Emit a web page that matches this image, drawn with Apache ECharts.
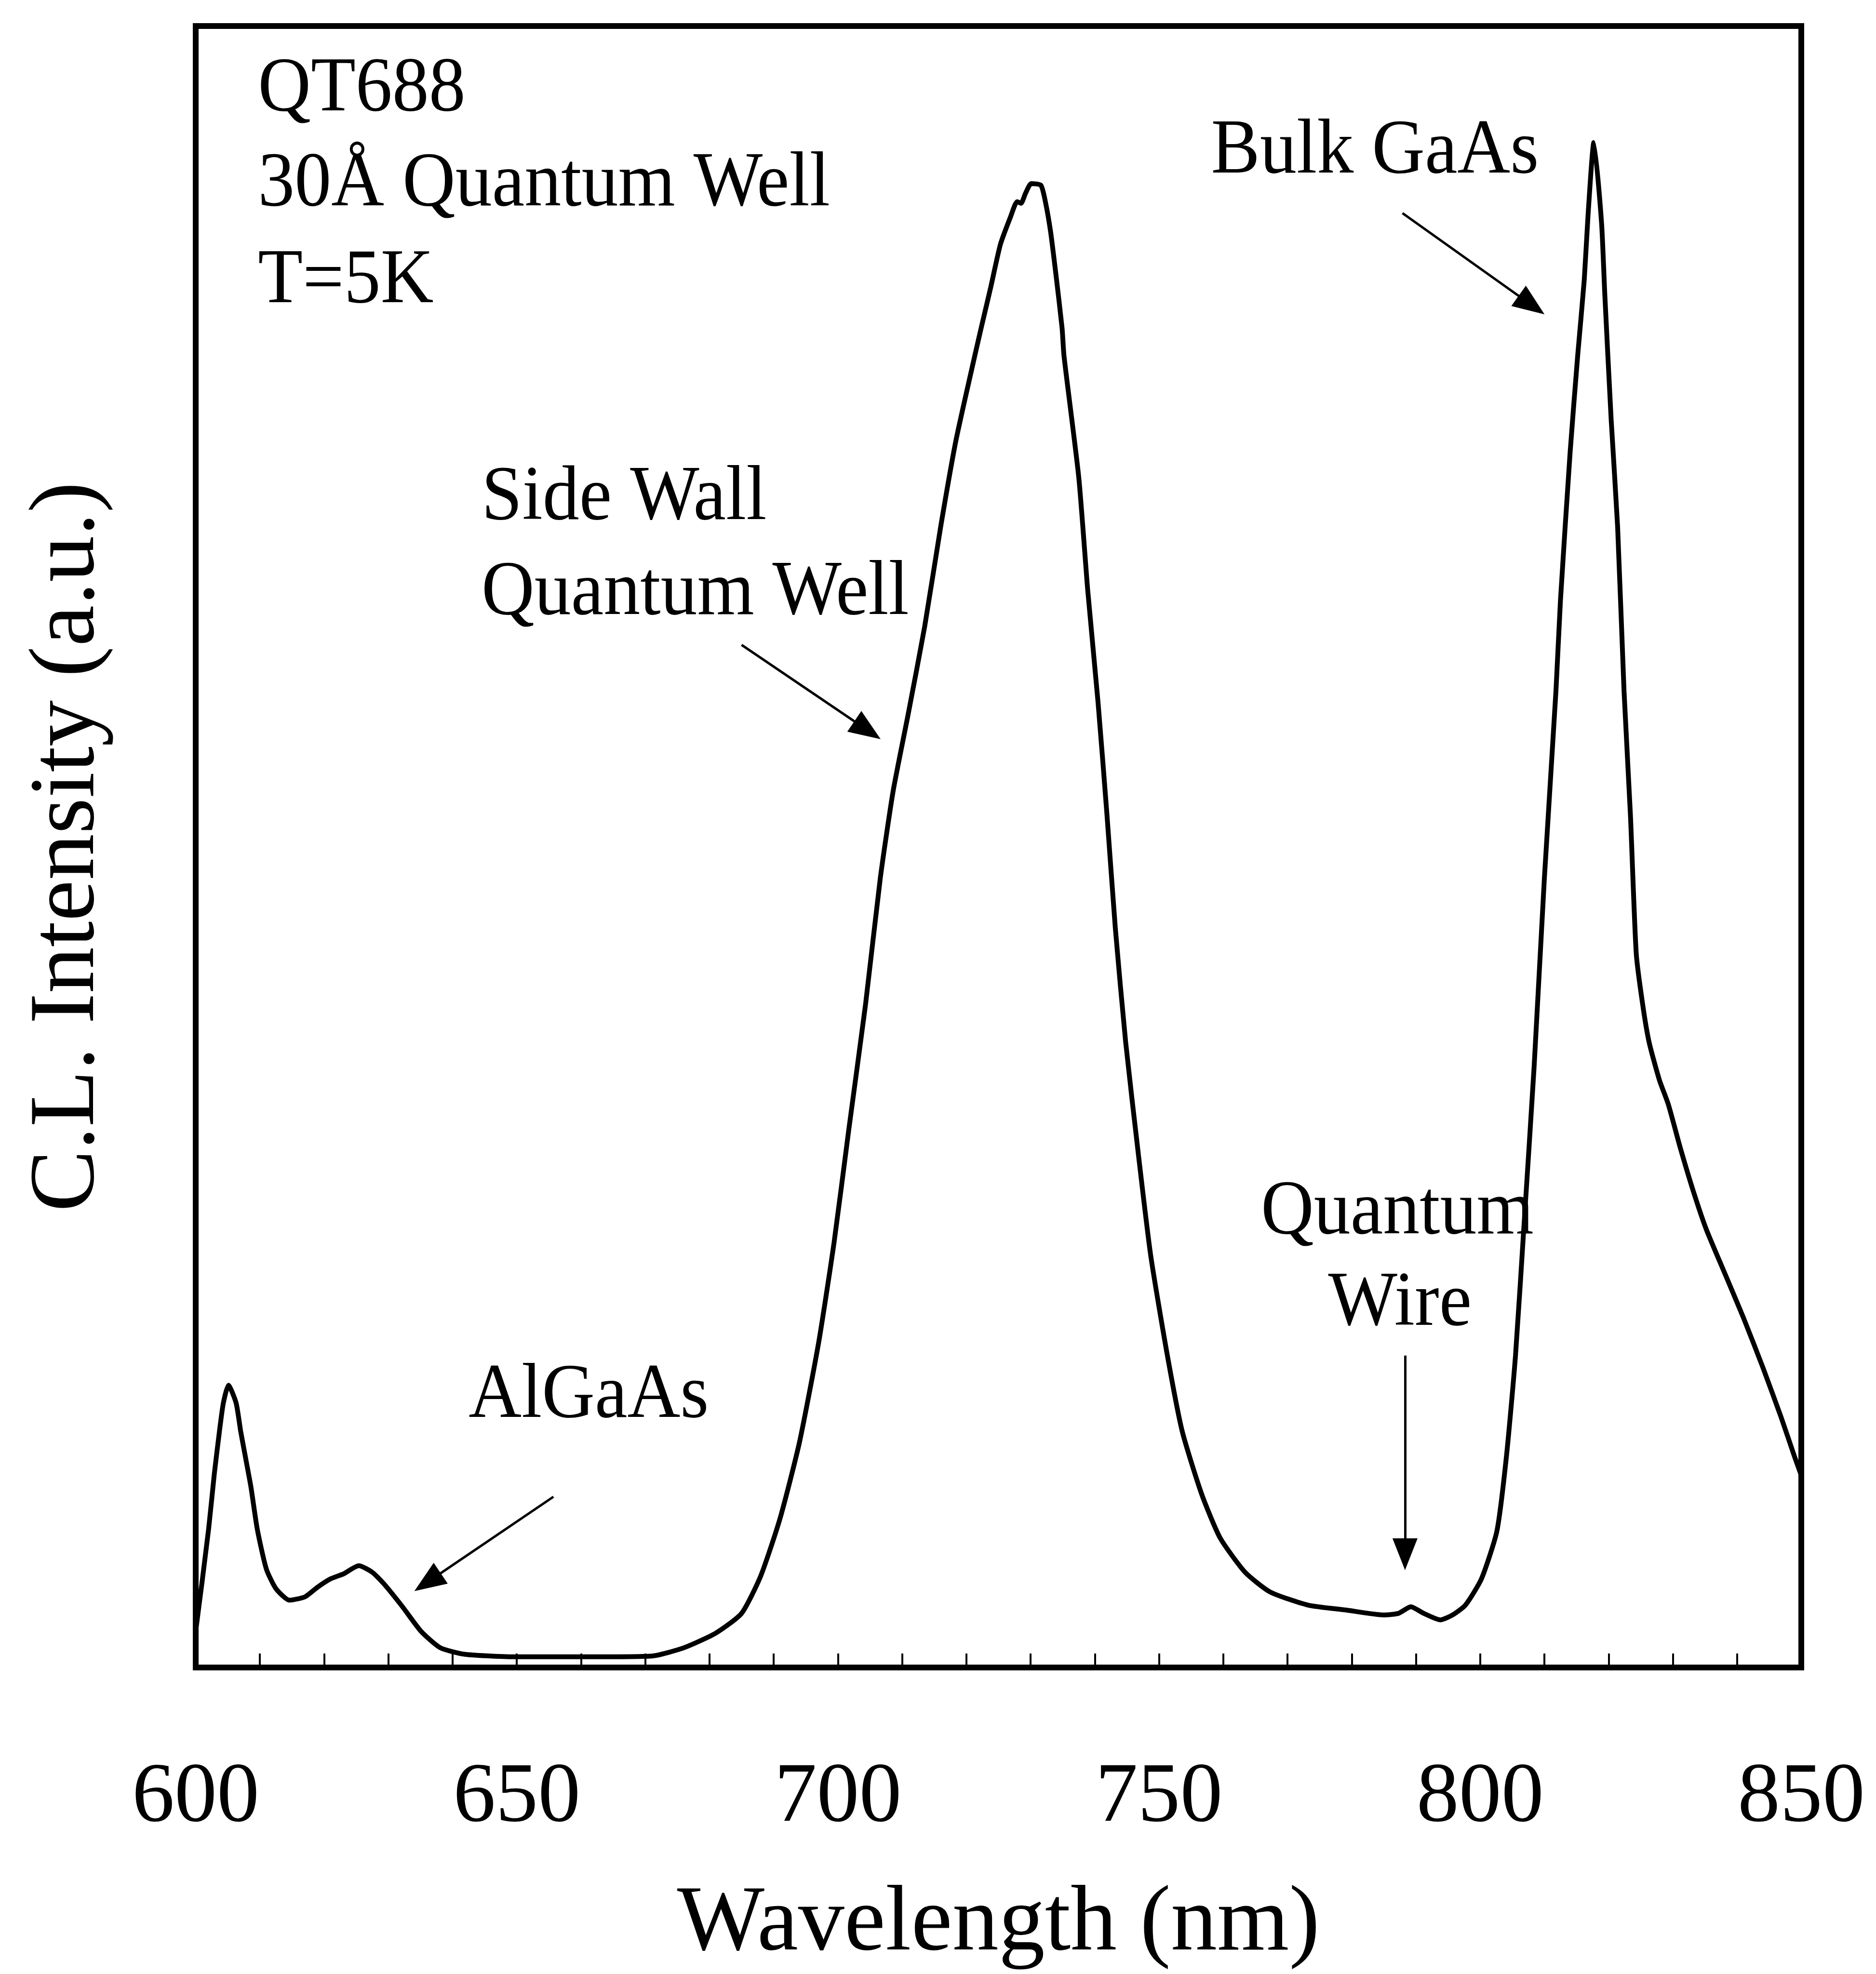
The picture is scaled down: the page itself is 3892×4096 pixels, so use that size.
<!DOCTYPE html>
<html>
<head>
<meta charset="utf-8">
<script src="https://cdn.jsdelivr.net/npm/echarts@6/dist/echarts.min.js"></script>
<style>
html,body{margin:0;padding:0;background:#fff;}
#chart{width:3892px;height:4096px;}
</style>
</head>
<body>
<div id="chart"></div>
<script>
// ---- data ----
const wavelength = [599.5,600,602.0,602.9,603.7,604.3,605.1,606.3,607.0,607.8,608.6,609.6,611,612.5,614.6,617,619,621,623,625.4,627.5,629.3,632.2,635.1,638.1,642,650,660,671,676,681,685,688,691,694,697,699.4,701.7,704.3,706.6,708.6,710.9,713.5,716,718.4,721.3,722.3,723.8,725.3,726.9,727.9,728.5,729.2,730.1,731.6,732.3,733.1,733.9,734.9,735.2,737.5,738.9,740.5,741.9,743.2,744.8,746.8,748.7,751.3,753.6,756.6,759.5,763.4,767.3,773.2,779.1,785,787.3,789.2,791.2,793.8,795.7,797.7,800.2,802.6,804.1,805.5,806.9,808.4,810.0,811.8,812.5,814.0,815.2,816.2,816.8,817.7,818.9,819.4,820.4,821.4,822.4,823.4,824.3,825.3,826.3,827.9,829.3,831.2,833.2,835.2,838.1,841.0,844.0,846.9,848.9,850];
const intensity = [1.2,2.2,8.4,11.8,14.4,16.1,17.2,16.1,14.4,12.7,11.0,8.4,6.0,4.8,4.1,4.3,4.9,5.4,5.7,6.2,5.8,5.1,3.7,2.2,1.2,0.8,0.65,0.65,0.7,1.2,2.1,3.3,5.6,9.1,13.7,19.8,25.9,32.8,40.4,48.1,53.4,58.0,63.4,69.5,74.8,79.9,81.6,84.1,86.7,88.4,89.3,89.2,89.8,90.4,90.3,89.3,87.5,85.0,81.6,79.9,72.5,65.6,58.8,51.9,45.0,38.1,31.2,25.1,19.0,14.4,10.6,7.9,5.8,4.6,3.8,3.5,3.2,3.3,3.7,3.3,2.9,3.2,3.8,5.4,8.3,12.9,19.0,27.4,36.6,48.1,59.5,65.0,74.0,80.0,84.5,88.5,92.9,88.0,83.7,76.0,69.5,59.5,51.9,43.5,40.4,38.1,35.8,34.3,31.6,29.0,26.7,24.0,21.3,18.3,15.2,12.9,11.7];
const xTickLabels = ['600','650','700','750','800','850'];

// annotations (data coordinates: wavelength nm, intensity a.u.; y = cap centre)
const noteTexts = ['QT688','30Å Quantum Well','T=5K','Bulk GaAs','Side Wall','Quantum Well','AlGaAs','Quantum','Wire'];
const noteX = [609.7,609.7,609.7,758.1,644.5,644.5,642.5,787.1,787.5];
const noteY = [96.1,90.3,84.4,92.3,71.2,65.4,16.5,27.7,22.1];
const noteAlign = ['left','left','left','left','left','left','left','center','center'];

// arrows: start point -> tip (data coordinates)
const arrowFromX = [787.9,685.0,655.7,788.3];
const arrowFromY = [88.6,62.3,10.4,19.0];
const arrowToX = [808.0,704.6,636.1,788.3];
const arrowToY = [83.0,57.1,5.2,6.9];

const FONT = "'Liberation Serif','Times New Roman',serif";

const chart = echarts.init(document.getElementById('chart'), null, {renderer:'canvas'});
const seriesData = wavelength.map((w,i)=>[w,intensity[i]]);
const arrowData = arrowFromX.map((x,i)=>[
  {coord:[x,arrowFromY[i]], symbol:'none'},
  {coord:[arrowToX[i],arrowToY[i]], symbol:'triangle'}
]);

chart.setOption({
  animation:false,
  backgroundColor:'#fff',
  grid:{left:406,right:155,top:54,bottom:629,show:true,borderColor:'#000',borderWidth:12,backgroundColor:'transparent'},
  xAxis:{
    type:'value',min:600,max:850,interval:10,
    axisLine:{show:true,lineStyle:{color:'#000',width:12}},
    axisTick:{show:true,inside:true,length:29,lineStyle:{color:'#000',width:4}},
    axisLabel:{show:true,margin:184,color:'#000',fontFamily:FONT,fontSize:176,
      formatter:v=>xTickLabels.includes(String(v))?String(v):''},
    splitLine:{show:false},
    name:'Wavelength (nm)',nameLocation:'middle',nameGap:439,
    nameTextStyle:{color:'#000',fontFamily:FONT,fontSize:192}
  },
  yAxis:{
    type:'value',min:0,max:100,
    axisLine:{show:false},axisTick:{show:false},axisLabel:{show:false},splitLine:{show:false},
    name:'C.L. Intensity (a.u.)',nameLocation:'middle',nameGap:167,nameRotate:90,
    nameTextStyle:{color:'#000',fontFamily:FONT,fontSize:192}
  },
  series:[{
    type:'line',data:seriesData,showSymbol:false,smooth:0.2,
    lineStyle:{color:'#000',width:10},
    clip:false,
    markLine:{
      silent:true,animation:false,symbolSize:[52,66],
      lineStyle:{color:'#000',width:5,type:'solid'},
      label:{show:false},
      data:arrowData
    }
  }]
});

const graphics = noteTexts.map((t,i)=>{
  const p = chart.convertToPixel({gridIndex:0},[noteX[i],noteY[i]]);
  return {type:'text',x:p[0],y:p[1],scaleX:0.95,
    style:{text:t,fill:'#000',font:"160px "+FONT,align:noteAlign[i],verticalAlign:'middle'}};
});
chart.setOption({graphic:graphics});
</script>
</body>
</html>
